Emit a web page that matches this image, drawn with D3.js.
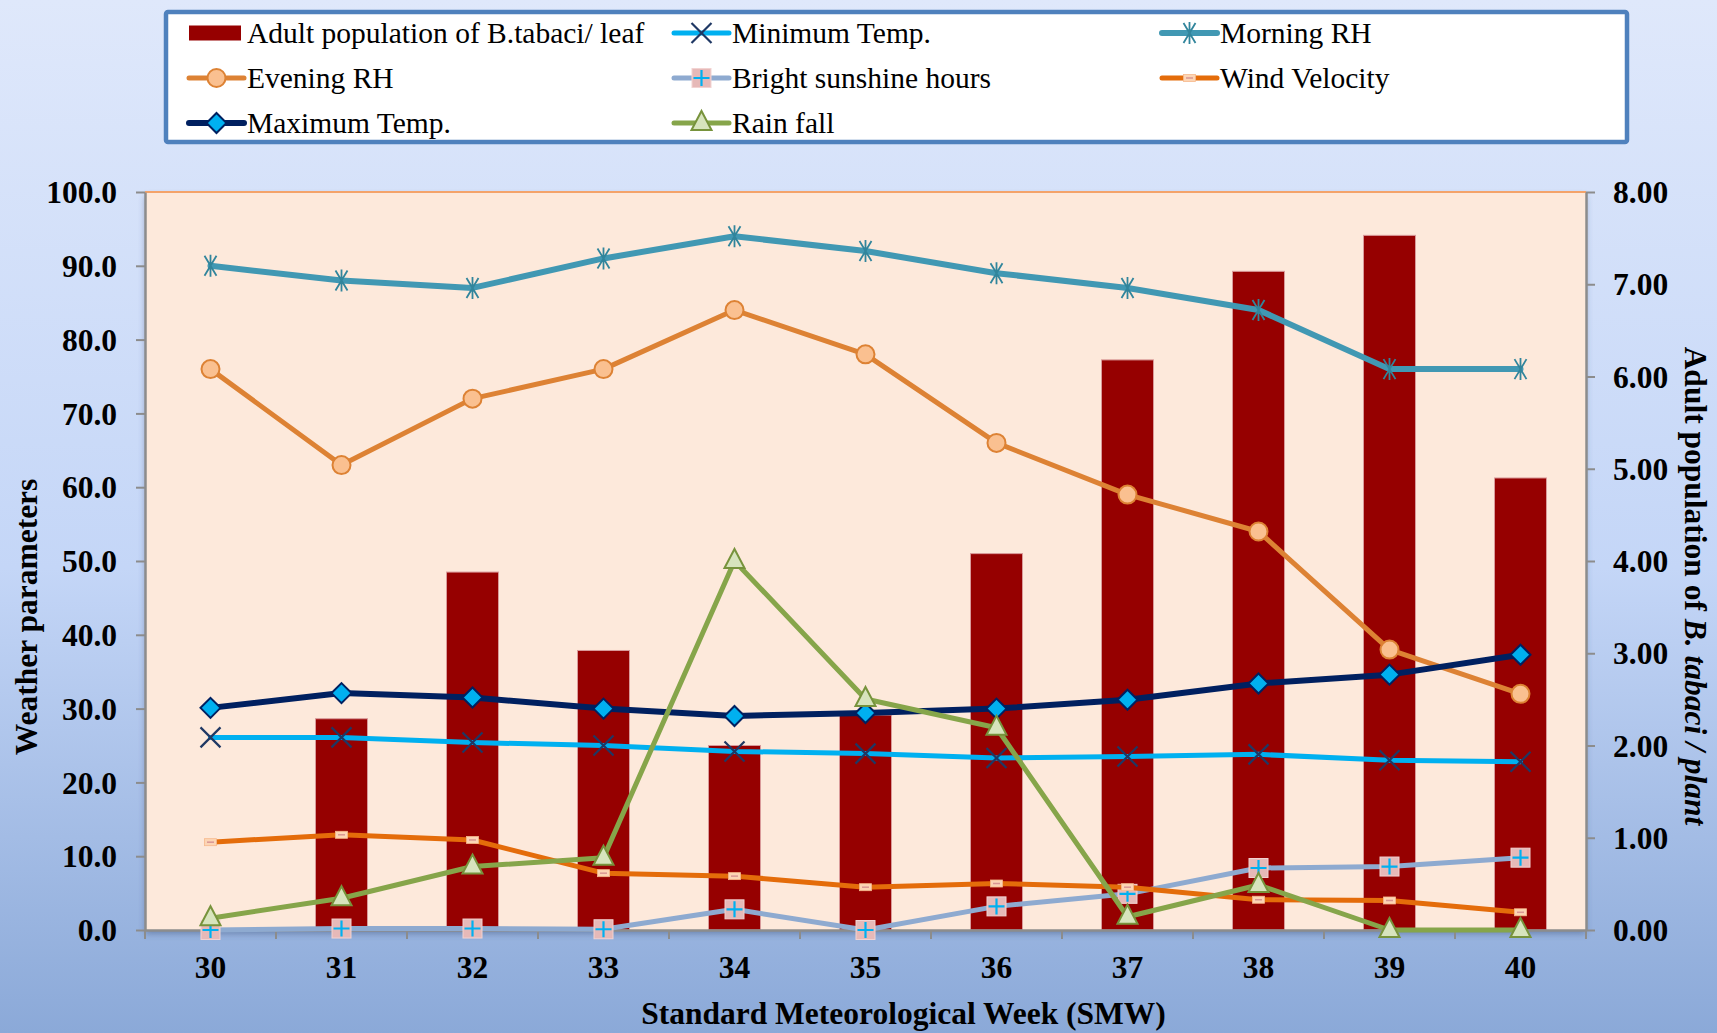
<!DOCTYPE html>
<html>
<head>
<meta charset="utf-8">
<script src="https://cdn.jsdelivr.net/npm/d3@7/dist/d3.min.js"></script>
<style>
  html, body { margin: 0; padding: 0; background: #ffffff; }
  svg { display: block; }
  text { font-family: "Liberation Serif", "Times New Roman", serif; fill: #000; }
</style>
</head>
<body>
<svg id="chart" width="1717" height="1033"></svg>
<script>
// Standard meteorological weeks
const weeks = ["30", "31", "32", "33", "34", "35", "36", "37", "38", "39", "40"];

// Whitefly counts (right axis)
const adultPopulation = [0, 2.29, 3.88, 3.03, 2.00, 2.33, 4.08, 6.18, 7.14, 7.53, 4.90];

// Weather parameters (left axis)
const minTemp       = [26.1, 26.1, 25.4, 25.0, 24.2, 23.9, 23.3, 23.5, 23.8, 23.0, 22.8];
const morningRH     = [90, 88, 87, 91, 94, 92, 89, 87, 84, 76, 76];
const eveningRH     = [76, 63, 72, 76, 84, 78, 66, 59, 54, 38, 32];
const sunshineHours = [0, 0.2, 0.2, 0.1, 2.8, 0, 3.2, 4.9, 8.4, 8.6, 9.8];
const windVelocity  = [11.9, 12.9, 12.2, 7.7, 7.3, 5.8, 6.3, 5.8, 4.1, 4.0, 2.4];
const maxTemp       = [30.1, 32.1, 31.5, 30.0, 29.0, 29.4, 30.0, 31.2, 33.4, 34.6, 37.3];
const rainFall      = [1.6, 4.3, 8.6, 9.8, 50.0, 31.3, 27.4, 1.8, 6.1, 0, 0];

const leftTicks  = [0, 10, 20, 30, 40, 50, 60, 70, 80, 90, 100];
const rightTicks = [0, 1, 2, 3, 4, 5, 6, 7, 8];

const svg = d3.select("#chart");
const W = 1717, H = 1033;
const plot = { left: 145, right: 1586, top: 192, bottom: 930 };
const tickFont = "31.5px", titleFont = "31.5px";

// ---------- defs ----------
const defs = svg.append("defs");
const bg = defs.append("linearGradient").attr("id", "bgGrad")
  .attr("x1", 0).attr("y1", 0).attr("x2", 0).attr("y2", 1);
bg.append("stop").attr("offset", "0%").attr("stop-color", "#dfe8fb");
bg.append("stop").attr("offset", "55%").attr("stop-color", "#c4d6f7");
bg.append("stop").attr("offset", "100%").attr("stop-color", "#8ba9d8");

const shadow = defs.append("filter").attr("id", "plotShadow")
  .attr("x", "-5%").attr("y", "-5%").attr("width", "110%").attr("height", "112%");
shadow.append("feDropShadow").attr("dx", 0).attr("dy", 4).attr("stdDeviation", 3)
  .attr("flood-color", "#3a4f78").attr("flood-opacity", 0.45);

svg.append("rect").attr("width", W).attr("height", H).attr("fill", "url(#bgGrad)");

// ---------- scales ----------
const x = d3.scaleBand().domain(weeks).range([plot.left, plot.right]).paddingInner(0).paddingOuter(0);
const yL = d3.scaleLinear().domain([0, 100]).range([plot.bottom, plot.top]);
const yR = d3.scaleLinear().domain([0, 8]).range([plot.bottom, plot.top]);
const cx = w => x(w) + x.bandwidth() / 2;

// plot area
svg.append("rect")
  .attr("x", plot.left).attr("y", plot.top)
  .attr("width", plot.right - plot.left).attr("height", plot.bottom - plot.top)
  .attr("fill", "#fde9db").attr("filter", "url(#plotShadow)");
svg.append("line")
  .attr("x1", plot.left).attr("x2", plot.right).attr("y1", plot.top).attr("y2", plot.top)
  .attr("stroke", "#f4a36a").attr("stroke-width", 2);

// ---------- bars ----------
const barW = 52;
svg.append("g").selectAll("rect").data(weeks).join("rect")
  .attr("x", (w) => cx(w) - barW / 2)
  .attr("y", (w, i) => yR(adultPopulation[i]))
  .attr("width", barW)
  .attr("height", (w, i) => plot.bottom - yR(adultPopulation[i]))
  .attr("fill", "#960000")
  .attr("stroke", "#d99a9a").attr("stroke-width", 1)
  .attr("display", (w, i) => adultPopulation[i] > 0 ? null : "none");

// ---------- axes ----------
const axisColor = "#8c8c8c";
const gL = svg.append("g").attr("transform", `translate(${plot.left},0)`)
  .call(d3.axisLeft(yL).tickValues(leftTicks).tickFormat(d3.format(".1f")).tickSizeInner(9).tickSizeOuter(0).tickPadding(19));
const gR = svg.append("g").attr("transform", `translate(${plot.right},0)`)
  .call(d3.axisRight(yR).tickValues(rightTicks).tickFormat(d3.format(".2f")).tickSizeInner(9).tickSizeOuter(0).tickPadding(18));
const gX = svg.append("g").attr("transform", `translate(0,${plot.bottom})`)
  .call(d3.axisBottom(x).tickSize(0).tickPadding(25));

[gL, gR, gX].forEach(g => {
  g.select(".domain").attr("stroke", axisColor).attr("stroke-width", 2.5);
  g.selectAll(".tick line").attr("stroke", axisColor).attr("stroke-width", 2);
  g.selectAll(".tick text")
    .style("font-family", '"Liberation Serif", "Times New Roman", serif')
    .style("font-weight", "bold").style("font-size", tickFont).attr("fill", "#000");
});
gL.selectAll(".tick text").attr("dy", "0.34em");
gR.selectAll(".tick text").attr("dy", "0.34em");
gX.selectAll(".tick text").attr("dy", "0.72em");

// x ticks on the category boundaries
const bounds = weeks.map(w => x(w)).concat([plot.right]);
svg.append("g").selectAll("line").data(bounds).join("line")
  .attr("x1", d => d).attr("x2", d => d)
  .attr("y1", plot.bottom).attr("y2", plot.bottom + 9)
  .attr("stroke", axisColor).attr("stroke-width", 2);

// ---------- marker shapes ----------
function drawMarker(g, type, px, py) {
  switch (type) {
    case "x":
      g.append("path").attr("d", `M${px-10},${py-10}L${px+10},${py+10}M${px-10},${py+10}L${px+10},${py-10}`)
        .attr("stroke", "#1f3864").attr("stroke-width", 2.2).attr("fill", "none");
      break;
    case "star":
      g.append("path").attr("d", `M${px-6},${py-10}L${px+6},${py+10}M${px-6},${py+10}L${px+6},${py-10}M${px},${py-11}L${px},${py+11}`)
        .attr("stroke", "#31859c").attr("stroke-width", 1.8).attr("fill", "none");
      break;
    case "circle":
      g.append("circle").attr("cx", px).attr("cy", py).attr("r", 9)
        .attr("fill", "#fac090").attr("stroke", "#dd8234").attr("stroke-width", 2);
      break;
    case "square":
      g.append("rect").attr("x", px - 9.5).attr("y", py - 9.5).attr("width", 19).attr("height", 19)
        .attr("fill", "#e6b9b8").attr("stroke", "#f2d3d2").attr("stroke-width", 1);
      g.append("path").attr("d", `M${px-8},${py}L${px+8},${py}M${px},${py-8}L${px},${py+8}`)
        .attr("stroke", "#00b0f0").attr("stroke-width", 2.2);
      break;
    case "dash":
      g.append("rect").attr("x", px - 6).attr("y", py - 3.5).attr("width", 12).attr("height", 7)
        .attr("fill", "#fcd5b5").attr("stroke", "#f7b98c").attr("stroke-width", 0.8);
      g.append("path").attr("d", `M${px-3.5},${py}L${px+3.5},${py}`)
        .attr("stroke", "#d99694").attr("stroke-width", 1.5);
      break;
    case "diamond":
      g.append("path").attr("d", `M${px},${py-10}L${px+10},${py}L${px},${py+10}L${px-10},${py}Z`)
        .attr("fill", "#00b0f0").attr("stroke", "#002060").attr("stroke-width", 2);
      break;
    case "triangle":
      g.append("path").attr("d", `M${px},${py-12}L${px+10},${py+7}L${px-10},${py+7}Z`)
        .attr("fill", "#d7e4bd").attr("stroke", "#77933c").attr("stroke-width", 2);
      break;
  }
}

// ---------- line series ----------
const series = [
  { name: "Minimum Temp.",        values: minTemp,       color: "#00b0f0", width: 5,   marker: "x" },
  { name: "Morning RH",           values: morningRH,     color: "#4198b3", width: 6,   marker: "star" },
  { name: "Evening RH",           values: eveningRH,     color: "#dd8234", width: 5,   marker: "circle" },
  { name: "Bright sunshine hours",values: sunshineHours, color: "#8eaad0", width: 5,   marker: "square" },
  { name: "Wind Velocity",        values: windVelocity,  color: "#e46c0a", width: 5,   marker: "dash" },
  { name: "Maximum Temp.",        values: maxTemp,       color: "#002060", width: 6,   marker: "diamond" },
  { name: "Rain fall",            values: rainFall,      color: "#86a54a", width: 5,   marker: "triangle" }
];

const line = d3.line().x(d => cx(d.w)).y(d => yL(d.v));
series.forEach(s => {
  const pts = weeks.map((w, i) => ({ w, v: s.values[i] }));
  const g = svg.append("g");
  g.append("path").datum(pts).attr("d", line)
    .attr("fill", "none").attr("stroke", s.color).attr("stroke-width", s.width)
    .attr("stroke-linejoin", "round").attr("stroke-linecap", "round");
  pts.forEach(p => drawMarker(g, s.marker, cx(p.w), yL(p.v)));
});

// ---------- axis titles ----------
svg.append("text")
  .attr("transform", `translate(37,617) rotate(-90)`)
  .attr("text-anchor", "middle")
  .style("font-size", titleFont).style("font-weight", "bold")
  .text("Weather parameters");

const rt = svg.append("text")
  .attr("transform", `translate(1685,586) rotate(90)`)
  .attr("text-anchor", "middle")
  .style("font-size", titleFont).style("font-weight", "bold");
rt.append("tspan").text("Adult population of ");
rt.append("tspan").style("font-style", "italic").text("B. tabaci / plant");

svg.append("text")
  .attr("x", (plot.left + plot.right) / 2 + 38).attr("y", 1024)
  .attr("text-anchor", "middle")
  .style("font-size", titleFont).style("font-weight", "bold")
  .text("Standard Meteorological Week (SMW)");

// ---------- legend ----------
svg.append("rect")
  .attr("x", 166).attr("y", 12).attr("width", 1461).attr("height", 130)
  .attr("fill", "#ffffff").attr("stroke", "#4f81bd").attr("stroke-width", 4.5).attr("rx", 2);

const legendItems = [
  { label: "Adult population of B.tabaci/ leaf", bar: true },
  series[0], series[1], series[2], series[3], series[4], series[5], series[6]
];
const colX = [189, 674, 1162];
const rowY = [33, 78, 123];
const swatchW = 55;
legendItems.forEach((item, i) => {
  const col = i % 3, row = Math.floor(i / 3);
  const lx = colX[col], ly = rowY[row];
  const g = svg.append("g");
  if (item.bar) {
    g.append("rect").attr("x", lx).attr("y", ly - 7.5).attr("width", 52).attr("height", 15).attr("fill", "#960000");
  } else {
    g.append("line").attr("x1", lx).attr("x2", lx + swatchW).attr("y1", ly).attr("y2", ly)
      .attr("stroke", item.color).attr("stroke-width", item.width).attr("stroke-linecap", "round");
    drawMarker(g, item.marker, lx + swatchW / 2, ly);
  }
  g.append("text").attr("x", lx + 58).attr("y", ly + 10)
    .style("font-size", "29.5px")
    .text(item.bar ? item.label : item.name);
});
</script>
</body>
</html>
